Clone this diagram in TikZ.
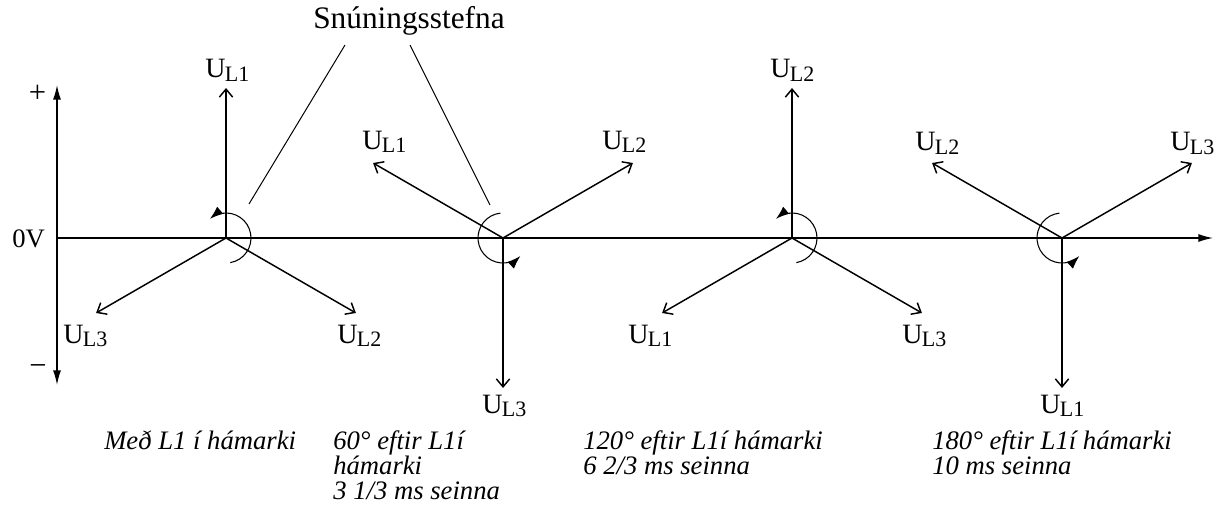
\documentclass[tikz,border=0pt]{standalone}
\usepackage{fontspec}
\setmainfont{Liberation Serif}
\usetikzlibrary{arrows.meta,calc}
\tikzset{
  vec/.style={line width=1.1pt,-{Straight Barb[length=6pt,width=10pt]}},
  axis/.style={line width=1pt,-{Latex[length=11pt,width=6pt]}},
  turn/.style={line width=0.8pt,-{Latex[length=10pt,width=7pt]}},
  lead/.style={line width=0.75pt},
  ulab/.style={anchor=base west,inner sep=0pt,font=\fontsize{21}{22}\selectfont},
  caption/.style={anchor=base west,inner sep=0pt,align=left,
              font=\fontsize{20}{18.75}\selectfont\itshape},
}
\newcommand{\UL}[1]{U\kern-0.5pt\raisebox{-2.3pt}{\fontsize{16.5}{17}\selectfont L#1}}

\begin{document}
\begin{tikzpicture}[x=0.75pt,y=0.75pt]
  \useasboundingbox (0,0) rectangle (1219,522);
  % axes
  \coordinate (orig) at (57,284);
  \coordinate (xend) at (1213,284);
  \coordinate (ytop) at (57,437);
  \coordinate (ybot) at (57,137);
  \draw[axis] (orig) -- (xend);
  \draw[axis,{Latex[length=11pt,width=6pt]}-{Latex[length=11pt,width=6pt]}] (ybot) -- (ytop);
  \node[anchor=base west,inner sep=0pt,font=\fontsize{20}{20}\selectfont] (zero) at (12,275) {0V};
  \node[inner sep=0pt,font=\fontsize{23}{23}\selectfont] (plus) at (37.5,428) {+};
  \node[inner sep=0pt,font=\fontsize{23}{23}\selectfont] (minus) at (38,152) {\char"2212};

  % phasor centres
  \coordinate (c1) at (226,284);
  \coordinate (c2) at (503,284);
  \coordinate (c3) at (792,284);
  \coordinate (c4) at (1062,284);

  % L1 at maximum
  \draw[vec] (c1) -- ($(c1)+(90:150)$);
  \draw[vec] (c1) -- ($(c1)+(-30:150)$);
  \draw[vec] (c1) -- ($(c1)+(210:150)$);
  \draw[turn] ($(c1)+(-80:25)$) arc[start angle=-80,end angle=130,radius=25];
  \node[ulab] (u11) at (205,444) {\UL1};
  \node[ulab] (u12) at (337,179) {\UL2};
  \node[ulab] (u13) at (63,179) {\UL3};

  % 60 degrees later
  \draw[vec] (c2) -- ($(c2)+(150:150)$);
  \draw[vec] (c2) -- ($(c2)+(30:150)$);
  \draw[vec] (c2) -- ($(c2)+(-90:150)$);
  \draw[turn] ($(c2)+(96:25)$) arc[start angle=96,end angle=314,radius=25];
  \node[ulab] (u21) at (362,373) {\UL1};
  \node[ulab] (u22) at (602,373) {\UL2};
  \node[ulab] (u23) at (482,109) {\UL3};

  % 120 degrees later
  \draw[vec] (c3) -- ($(c3)+(90:150)$);
  \draw[vec] (c3) -- ($(c3)+(210:150)$);
  \draw[vec] (c3) -- ($(c3)+(-30:150)$);
  \draw[turn] ($(c3)+(-80:25)$) arc[start angle=-80,end angle=130,radius=25];
  \node[ulab] (u32) at (770,444) {\UL2};
  \node[ulab] (u31) at (628,179) {\UL1};
  \node[ulab] (u33) at (902,179) {\UL3};

  % 180 degrees later
  \draw[vec] (c4) -- ($(c4)+(150:150)$);
  \draw[vec] (c4) -- ($(c4)+(30:150)$);
  \draw[vec] (c4) -- ($(c4)+(-90:150)$);
  \draw[turn] ($(c4)+(96:25)$) arc[start angle=96,end angle=314,radius=25];
  \node[ulab] (u42) at (915,371) {\UL2};
  \node[ulab] (u43) at (1170,371) {\UL3};
  \node[ulab] (u41) at (1040,109) {\UL1};

  % direction of rotation
  \node[anchor=base west,inner sep=0pt,font=\fontsize{23.5}{24}\selectfont] (rot) at (313,493) {Snúningsstefna};
  \coordinate (r1) at (345,477);
  \coordinate (r1e) at (249,318);
  \coordinate (r2) at (410,477);
  \coordinate (r2e) at (490,317);
  \draw[lead] (r1) -- (r1e);
  \draw[lead] (r2) -- (r2e);

  % captions (anchored at the baseline of their last line)
  \node[caption] (t1) at (104,73) {Með L1 í hámarki};
  \node[caption] (t2) at (333,23) {60° eftir L1í\\hámarki\\3 1/3 ms seinna};
  \node[caption] (t3) at (583,48) {120° eftir L1í hámarki\\6 2/3 ms seinna};
  \node[caption] (t4) at (932,48) {180° eftir L1í hámarki\\10 ms seinna};
\end{tikzpicture}
\end{document}
